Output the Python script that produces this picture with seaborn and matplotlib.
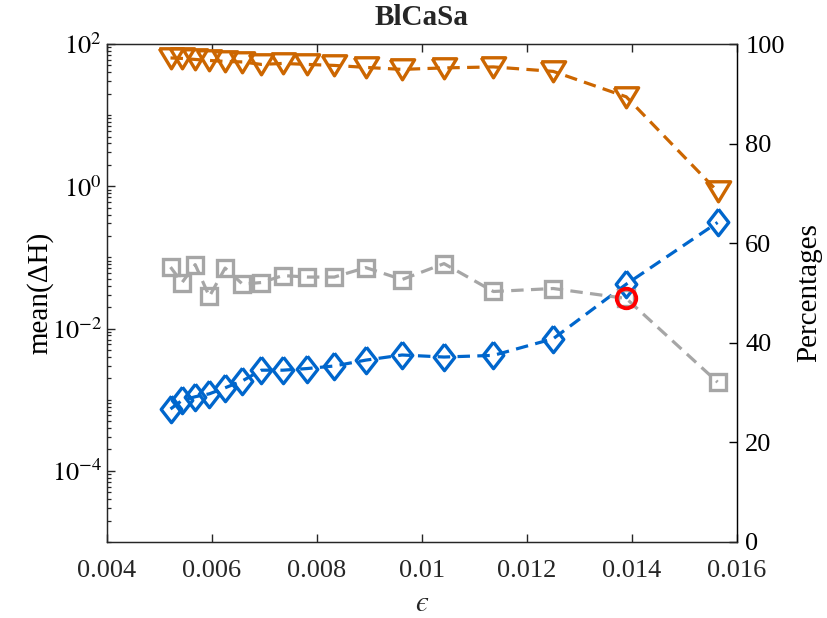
import numpy as np
import pandas as pd
import matplotlib
matplotlib.use("Agg")
import matplotlib.pyplot as plt
from matplotlib.ticker import FixedLocator, NullFormatter, FixedFormatter
import seaborn as sns

# Step sizes and the three measured quantities
eps = [0.00521, 0.00543, 0.00568, 0.00595, 0.00625, 0.00658, 0.00694, 0.00735,
       0.00781, 0.00833, 0.00893, 0.00962, 0.01042, 0.01136, 0.01250, 0.01389, 0.01563]
mean_dH = [7.4e-4, 9.8e-4, 1.10e-3, 1.21e-3, 1.47e-3, 1.84e-3, 2.6e-3, 2.6e-3,
           2.74e-3, 2.98e-3, 3.6e-3, 4.25e-3, 3.98e-3, 4.2e-3, 7.2e-3, 4.2e-2, 0.31]
accept_pct = [97.2, 97.1, 96.9, 96.7, 96.5, 96.4, 95.9, 96.1, 95.9, 95.7, 95.3,
              94.9, 95.2, 95.4, 94.5, 89.4, 70.4]
other_pct = [55.2, 52.1, 55.7, 49.3, 55.0, 51.8, 52.1, 53.5, 53.2, 53.2, 55.1,
             52.7, 55.9, 50.3, 50.9, 48.9, 32.1]
highlight_idx = 15

x_ticks = [0.004, 0.006, 0.008, 0.01, 0.012, 0.014, 0.016]
x_tick_labels = ["0.004", "0.006", "0.008", "0.01", "0.012", "0.014", "0.016"]
left_ticks = [1e-4, 1e-2, 1e0, 1e2]
left_tick_labels = [r"$10^{-4}$", r"$10^{-2}$", r"$10^{0}$", r"$10^{2}$"]
right_ticks = [0, 20, 40, 60, 80, 100]

df = pd.DataFrame({"eps": eps, "dH": mean_dH, "acc": accept_pct, "oth": other_pct})

BLUE = "#0066CC"
ORANGE = "#CC6600"
GRAY = "#A6A6A6"
AXC = "#262626"

sns.set_theme(style="white")
plt.rcParams.update({
    "font.family": ["Liberation Serif", "DejaVu Serif"],
    "mathtext.fontset": "stix",
    "xtick.direction": "in",
    "ytick.direction": "in",
    "xtick.bottom": True,
    "xtick.top": True,
    "ytick.left": True,
    "xtick.major.size": 5.5,
    "ytick.major.size": 5.5,
    "ytick.minor.size": 3,
    "xtick.major.width": 1.0,
    "ytick.major.width": 1.0,
    "ytick.minor.width": 0.9,
    "xtick.color": AXC,
    "ytick.color": AXC,
})

FS = 19
LFS = 21
LW = 2.3
DASH = (0, (3.9, 2.3))

diamond = [(0, 1), (0.78, 0), (0, -1), (-0.78, 0), (0, 1)]
tri_down = [(-1, 0.8), (1, 0.8), (0, -0.85), (-1, 0.8)]

fig = plt.figure(figsize=(8.28, 6.18), dpi=100)
ax = fig.add_axes([0.1292, 0.123, 0.7609, 0.8058])
ax2 = ax.twinx()

sns.lineplot(data=df, x="eps", y="dH", ax=ax, color=BLUE, linewidth=LW,
             linestyle=DASH, marker=diamond, markersize=19, fillstyle="none",
             markeredgecolor=BLUE, markeredgewidth=2.4, sort=False)

sns.lineplot(data=df, x="eps", y="acc", ax=ax2, color=ORANGE, linewidth=LW,
             linestyle=DASH, marker=tri_down, markersize=17.5, fillstyle="none",
             markeredgecolor=ORANGE, markeredgewidth=2.4, sort=False)
sns.lineplot(data=df, x="eps", y="oth", ax=ax2, color=GRAY, linewidth=LW,
             linestyle=DASH, marker="s", markersize=11.5, fillstyle="none",
             markeredgecolor=GRAY, markeredgewidth=2.4, sort=False)
sns.lineplot(x=[eps[highlight_idx]], y=[other_pct[highlight_idx]], ax=ax2,
             color="red", linestyle="none", marker="o", markersize=14,
             fillstyle="none", markeredgecolor="red", markeredgewidth=2.8)

# left (log) axis
ax.set_yscale("log")
ax.set_ylim(1e-5, 1e2)
ax.set_xlim(0.004, 0.016)
ax.yaxis.set_major_locator(FixedLocator(left_ticks))
ax.yaxis.set_major_formatter(FixedFormatter(left_tick_labels))
minor_pos = [k * 10.0 ** e for e in range(-5, 2) for k in range(2, 10)]
minor_pos += [1e-5, 1e-3, 1e-1, 1e1]
ax.yaxis.set_minor_locator(FixedLocator(sorted(minor_pos)))
ax.yaxis.set_minor_formatter(NullFormatter())
ax.xaxis.set_major_locator(FixedLocator(x_ticks))
ax.xaxis.set_major_formatter(FixedFormatter(x_tick_labels))

ax.tick_params(axis="x", which="major", top=True, bottom=True, labelsize=FS,
               labelcolor=AXC, pad=13)
ax.tick_params(axis="y", which="both", left=True, right=False, labelsize=FS,
               labelcolor="black")
ax.yaxis.set_ticks_position("left")

ax.set_xlabel("\u03f5", fontsize=LFS, color=AXC, labelpad=6,
              family=["STIXGeneral", "DejaVu Serif"], fontstyle="italic")
ax.set_ylabel("mean(\u0394H)", fontsize=LFS, color="black", labelpad=-1)
ax.set_title("BlCaSa", fontsize=LFS, fontweight="bold", pad=14)

# right (percentage) axis
ax2.set_ylim(0, 100)
ax2.yaxis.set_major_locator(FixedLocator(right_ticks))
ax2.tick_params(axis="y", which="major", direction="in", right=True, length=5.5,
                width=1.0, colors="black", labelsize=FS, pad=6)
ax2.set_ylabel("Percentages", fontsize=LFS, color="black", labelpad=8)

for a in (ax, ax2):
    for name, sp in a.spines.items():
        sp.set_linewidth(0.9)
        sp.set_color(AXC)
ax2.spines["right"].set_color("black")
ax.grid(False)
ax2.grid(False)

fig.savefig("out.png", dpi=100, facecolor="white")
